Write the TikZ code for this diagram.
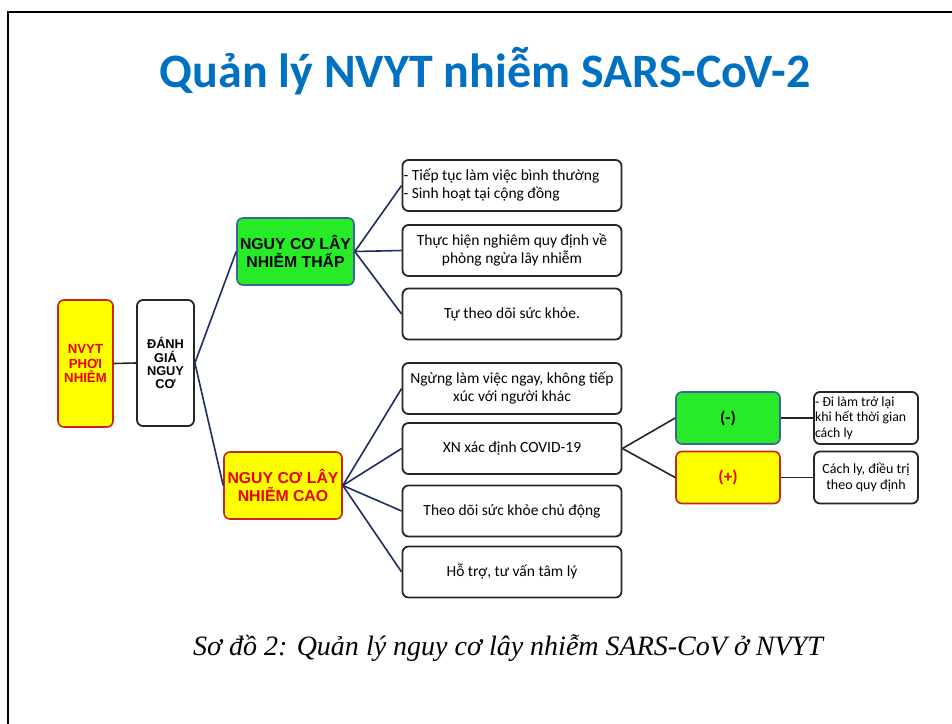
\documentclass[tikz,border=0pt]{standalone}
\usepackage{fontspec}
\setmainfont{Carlito}
\newfontfamily\arialf{Liberation Sans}
\newfontfamily\timesf{Liberation Serif}
\definecolor{titleblue}{RGB}{0,112,192}
\definecolor{navyline}{RGB}{30,45,100}
\definecolor{brightgreen}{RGB}{40,235,40}
\definecolor{greenedge}{RGB}{60,100,150}
\definecolor{boxyellow}{RGB}{255,255,0}
\definecolor{rededge}{RGB}{200,35,30}
\definecolor{redtext}{RGB}{235,0,0}
\tikzset{
  anybox/.style={rounded corners=6pt, line width=1.6pt, inner sep=0pt, align=center},
  lowbox/.style={anybox, fill=brightgreen, draw=greenedge},
  highbox/.style={anybox, fill=boxyellow, draw=rededge, text=redtext},
  plainbox/.style={anybox, draw=black!85, fill=white, line width=1.8pt},
  navy/.style={draw=navyline, line width=1.6pt},
  blackline/.style={draw=black!85, line width=1.6pt}
}
\begin{document}
\begin{tikzpicture}[x=1pt, y=-1pt]
\useasboundingbox (0,0) rectangle (952,723);
\fill[white] (0,0) rectangle (952,723);
% page frame
\draw[line width=2.8pt, black] (8,725) -- (8,12) -- (954,12);

% title
\node[font={\fontsize{48}{56}\selectfont\bfseries}, text=titleblue] (title) at (485,71) {Quản lý NVYT nhiễm SARS-CoV-2};

% left column
\node[highbox, minimum width=55pt, minimum height=127pt, font={\arialf\fontsize{13.2}{14.5}\selectfont\bfseries}] (nv) at (85.5,363.5) {NVYT\\PHƠI\\NHIỄM};
\node[plainbox, minimum width=57pt, minimum height=126pt, font={\arialf\fontsize{12.8}{13.2}\selectfont\bfseries}] (dg) at (165.5,363) {ĐÁNH\\GIÁ\\NGUY\\CƠ};

% risk level boxes
\node[lowbox, minimum width=117pt, minimum height=67pt, font={\arialf\fontsize{15.8}{18}\selectfont\bfseries}] (low) at (295.5,251.5) {NGUY CƠ LÂY\\NHIỄM THẤP};
\node[highbox, minimum width=118pt, minimum height=67pt, font={\arialf\fontsize{15.8}{18}\selectfont\bfseries}] (high) at (283,485.5) {NGUY CƠ LÂY\\NHIỄM CAO};

% action boxes
\tikzset{act/.style={plainbox, minimum width=219pt, minimum height=51pt, font={\fontsize{15.5}{18}\selectfont}}}
\node[act, text width=217pt, inner xsep=1pt, align=flush left] (a1) at (512,185.5) {- Tiếp tục làm việc bình thường\\- Sinh hoạt tại cộng đồng};
\node[act] (a2) at (512,250.5) {Thực hiện nghiêm quy định về\\phòng ngừa lây nhiễm};
\node[act] (a3) at (512,314) {Tự theo dõi sức khỏe.};
\node[act] (b1) at (512,388.5) {Ngừng làm việc ngay, không tiếp\\xúc với người khác};
\node[act] (b2) at (512,448.5) {XN xác định COVID-19};
\node[act] (b3) at (512,511) {Theo dõi sức khỏe chủ động};
\node[act] (b4) at (512,572) {Hỗ trợ, tư vấn tâm lý};

% test results
\node[lowbox, minimum width=104pt, minimum height=52pt, font={\fontsize{17}{19}\selectfont\bfseries}] (neg) at (728,418) {(-)};
\node[highbox, minimum width=104pt, minimum height=52pt, font={\fontsize{17}{19}\selectfont\bfseries}] (pos) at (728,477.5) {(+)};
\node[plainbox, minimum width=104pt, minimum height=52pt, text width=102pt, inner xsep=1pt, align=flush left, font={\fontsize{13.8}{15.5}\selectfont}] (negr) at (866,418) {- Đi làm trở lại\\khi hết thời gian\\cách ly};
\node[plainbox, minimum width=104pt, minimum height=52pt, font={\fontsize{14}{16.5}\selectfont}] (posr) at (866,477.5) {Cách ly, điều trị\\theo quy định};

% connectors
\draw[blackline] (nv.east) -- (dg.east -| dg.west);
\draw[navy] (dg.east) -- (low.west);
\draw[navy] (dg.east) -- (high.west);
\foreach \t in {a1,a2,a3} \draw[navy] (low.east) -- (\t.west);
\foreach \t in {b1,b2,b3,b4} \draw[navy] (high.east) -- (\t.west);
\draw[blackline] (b2.east) -- (neg.west);
\draw[blackline] (b2.east) -- (pos.west);
\draw[blackline] (neg.east) -- (negr.west);
\draw[blackline] (pos.east) -- (posr.west);

% caption
\node[font={\timesf\fontsize{28}{32}\selectfont\itshape}] (cap) at (508,648) {Sơ đồ 2: Quản lý nguy cơ lây nhiễm SARS-CoV ở NVYT};
\end{tikzpicture}
\end{document}
